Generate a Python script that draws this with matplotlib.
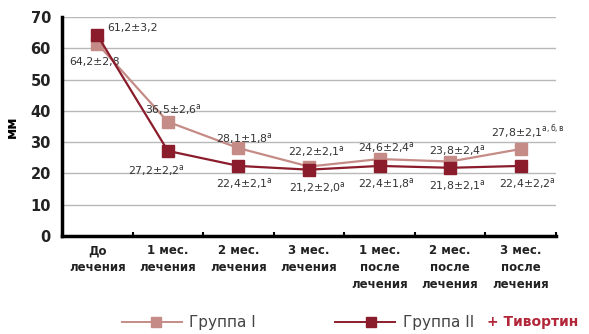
import matplotlib.pyplot as plt
from matplotlib.lines import Line2D

plt.rcParams['font.family'] = ['DejaVu Sans']
plt.rcParams['mathtext.default'] = 'regular'

categories = ['До\nлечения', '1 мес.\nлечения', '2 мес.\nлечения', '3 мес.\nлечения',
              '1 мес.\nпосле\nлечения', '2 мес.\nпосле\nлечения', '3 мес.\nпосле\nлечения']
group1 = [61.5, 36.5, 28.1, 22.2, 24.6, 23.8, 27.8]
group2 = [64.2, 27.2, 22.4, 21.2, 22.4, 21.8, 22.4]
labels1 = ['64,2±2,8', '36,5±2,6$^{a}$', '28,1±1,8$^{a}$', '22,2±2,1$^{a}$',
           '24,6±2,4$^{a}$', '23,8±2,4$^{a}$', '27,8±2,1$^{а,б,в}$']
labels2 = ['61,2±3,2', '27,2±2,2$^{a}$', '22,4±2,1$^{a}$', '21,2±2,0$^{a}$',
           '22,4±1,8$^{a}$', '21,8±2,1$^{a}$', '22,4±2,2$^{a}$']

c1 = '#c58b86'
c2 = '#8a1c2b'

fig = plt.figure(figsize=(5.89, 3.34), dpi=100)
ax = fig.add_axes([62 / 589, 1 - 236 / 334, (556 - 62) / 589, (236 - 17) / 334])

x = list(range(len(categories)))
ax.plot(x, group1, color=c1, lw=1.6, marker='s', ms=9, mfc=c1, mec=c1, zorder=3)
ax.plot(x, group2, color=c2, lw=1.6, marker='s', ms=9, mfc=c2, mec=c2, zorder=4)

ax.set_xlim(-0.5, len(categories) - 0.5)
ax.set_ylim(0, 70)
ax.set_yticks(range(0, 71, 10))
ax.set_xticks(x)
ax.set_xticklabels(categories, fontweight='bold', fontsize=8.5, linespacing=1.4, color='#222222')
ax.tick_params(axis='x', length=0, pad=6)
ax.set_xticks([i + 0.5 for i in x], minor=True)
ax.tick_params(axis='x', which='minor', length=3, width=1.5, direction='in')
ax.tick_params(axis='y', length=0, labelsize=10.5, pad=8, labelcolor='#222222')
for t in ax.get_yticklabels():
    t.set_fontweight('bold')
ax.set_ylabel('мм', fontweight='bold', fontsize=10, labelpad=8)

ax.grid(axis='y', color='#b8b8b8', lw=1)
ax.set_axisbelow(True)
for s in ['top', 'right']:
    ax.spines[s].set_visible(False)
ax.spines['left'].set_linewidth(2.5)
ax.spines['bottom'].set_linewidth(2.5)

# annotations
off1 = [(-2, -13), (4, 9), (4, 7), (5, 11), (5, 8), (5, 8), (5, 12)]
off2 = [(7, 5), (-8, -14), (4, -13), (6, -13), (5, -13), (5, -13), (5, -13)]
for i in x:
    ax.annotate(labels1[i], (i, group1[i]), xytext=off1[i], textcoords='offset points',
                ha='center', va='center', fontsize=7.8, color='#333333')
    ha = 'left' if i == 0 else 'center'
    ax.annotate(labels2[i], (i, group2[i]), xytext=off2[i], textcoords='offset points',
                ha=ha, va='center', fontsize=7.8, color='#333333')

# legend, placed by hand in figure coords
ly = 1 - 322 / 334
fig.add_artist(Line2D([122 / 589, 182 / 589], [ly, ly], color=c1, lw=1.4))
fig.add_artist(Line2D([156 / 589], [ly], color=c1, marker='s', ms=7.5))
fig.text(189 / 589, ly, 'Группа I', fontsize=11, color='#444444', va='center', ha='left')
fig.add_artist(Line2D([335 / 589, 395 / 589], [ly, ly], color=c2, lw=1.4))
fig.add_artist(Line2D([371 / 589], [ly], color=c2, marker='s', ms=7.5))
fig.text(403 / 589, ly, 'Группа II', fontsize=11, color='#444444', va='center', ha='left')
fig.text(487 / 589, ly, '+ Тивортин', color='#b3263a', fontweight='bold', fontsize=10,
         va='center', ha='left')

fig.savefig('out.png', dpi=100)
